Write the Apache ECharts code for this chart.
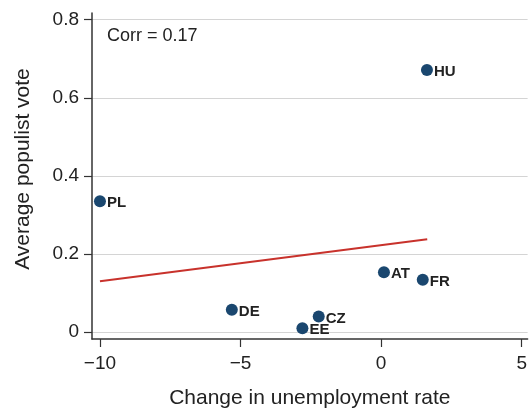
<!DOCTYPE html>
<html>
<head>
<meta charset="utf-8">
<script src="https://cdn.jsdelivr.net/npm/echarts@6/dist/echarts.min.js"></script>
<style>html,body{margin:0;padding:0;background:#fff;}#c{width:530px;height:414px;}</style>
</head>
<body>
<div id="c"></div>
<script>
var countries = ['HU', 'PL', 'AT', 'FR', 'CZ', 'EE', 'DE'];
var unempChange = [1.63, -10.0, 0.1, 1.48, -2.22, -2.8, -5.31];
var populistVote = [0.671, 0.335, 0.153, 0.134, 0.040, 0.010, 0.057];
var fitX = [-10.0, 1.64];
var fitY = [0.130, 0.238];
var xTicks = [-10, -5, 0, 5];
var yTicks = [0, 0.2, 0.4, 0.6, 0.8];
var corrText = 'Corr = 0.17';

var font = '"Liberation Sans", Arial, Helvetica, sans-serif';
var chart = echarts.init(document.getElementById('c'), null, {renderer: 'canvas'});
var pts = countries.map(function (c, i) { return {name: c, value: [unempChange[i], populistVote[i]]}; });
var fit = fitX.map(function (x, i) { return [x, fitY[i]]; });

chart.setOption({
  animation: false,
  backgroundColor: '#fff',
  textStyle: {fontFamily: font},
  title: {
    text: corrText, left: 107, top: 27, padding: 0,
    textStyle: {fontFamily: font, fontSize: 18, fontWeight: 'normal', color: '#222'}
  },
  grid: {left: 92, right: 0, top: 13, bottom: 70, containLabel: false},
  xAxis: {
    type: 'value', min: -10.283, max: 5.21,
    name: 'Change in unemployment rate', nameLocation: 'middle', nameGap: 49,
    nameTextStyle: {fontFamily: font, fontSize: 21, color: '#222'},
    axisLine: {show: true, onZero: false, lineStyle: {color: '#333', width: 1.5}},
    axisTick: {show: true, length: 8, customValues: xTicks, lineStyle: {color: '#333', width: 1.2}},
    axisLabel: {customValues: xTicks, margin: 15, fontSize: 19, color: '#222', fontFamily: font,
      formatter: function (v) { return String(v).replace('-', '\u2212'); }},
    splitLine: {show: false}
  },
  yAxis: {
    type: 'value', min: -0.0177, max: 0.817,
    name: 'Average populist vote', nameLocation: 'middle', nameGap: 58,
    nameTextStyle: {fontFamily: font, fontSize: 21, color: '#222', padding: [0, 0, 0, 14]},
    axisLine: {show: true, onZero: false, lineStyle: {color: '#333', width: 1.5}},
    axisTick: {show: true, length: 8, customValues: yTicks, lineStyle: {color: '#333', width: 1.2}},
    axisLabel: {customValues: yTicks, margin: 13, fontSize: 19, color: '#222', fontFamily: font,
      formatter: function (v) { return v === 0 ? '0' : v.toFixed(1); }},
    splitLine: {show: true, customValues: yTicks, lineStyle: {color: '#d4d4d4', width: 1}}
  },
  series: [
    {
      type: 'line', data: fit, symbol: 'none', z: 2,
      lineStyle: {color: '#c8322c', width: 2}
    },
    {
      type: 'scatter', data: pts, symbolSize: 12, z: 3,
      itemStyle: {color: '#1a476f', opacity: 1},
      label: {
        show: true, position: 'right', distance: 1, offset: [0, 2],
        formatter: '{b}', fontSize: 15, fontWeight: 'bold', color: '#222', fontFamily: font
      }
    }
  ]
});
</script>
</body>
</html>
